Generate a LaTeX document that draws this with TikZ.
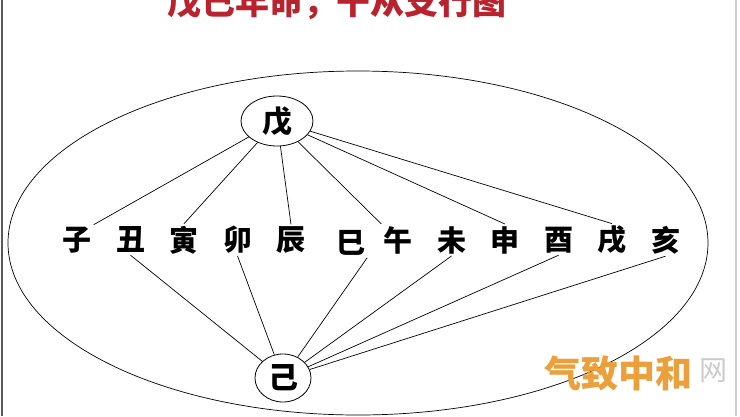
\documentclass[tikz,border=0pt]{standalone}
\usepackage{fontspec}
\newfontfamily\cjk{Noto Sans CJK SC}
\usetikzlibrary{positioning, shapes.geometric}
\definecolor{titlered}{RGB}{185,35,45}
\definecolor{markorange}{RGB}{236,160,60}
\tikzstyle{gan} = [ellipse, draw=black, line width=0.8pt, inner sep=0pt, font=\cjk\bfseries\fontsize{30}{30}\selectfont]
\tikzstyle{zhi} = [rectangle, inner sep=2pt, font=\cjk\bfseries\fontsize{29}{29}\selectfont]
\tikzstyle{line} = [line width=0.7pt]

\begin{document}
\begin{tikzpicture}[x=1pt, y=-1pt, node distance=53.5pt]
			\clip (0,0) rectangle (740,416);
			\fill[white] (0,0) rectangle (740,416);
			%标题
			\node (title) [anchor=base, text=titlered, font=\cjk\bfseries\fontsize{34}{34}\selectfont] at (337,14) {戊己年命，干从支行图};
			%外框的大椭圆
			\draw [line] (358,243) ellipse [x radius=350pt, y radius=172pt];
			%天干
			\node (gan1) [gan, minimum width=72pt, minimum height=50pt] at (277,121) {戊};
			\node (gan2) [gan, minimum width=56pt, minimum height=48pt] at (283,378) {己};
			%十二地支
			\node (zhi1) [zhi] at (77,240) {子};
			\node (zhi2) [zhi, right of=zhi1] {丑};
			\node (zhi3) [zhi, right of=zhi2] {寅};
			\node (zhi4) [zhi, right of=zhi3] {卯};
			\node (zhi5) [zhi, right of=zhi4] {辰};
			\node (zhi6) [zhi, right of=zhi5, xshift=6pt, yshift=-3pt] {巳};
			\node (zhi7) [zhi, right of=zhi5, node distance=107pt] {午};
			\node (zhi8) [zhi, right of=zhi7] {未};
			\node (zhi9) [zhi, right of=zhi8] {申};
			\node (zhi10) [zhi, right of=zhi9] {酉};
			\node (zhi11) [zhi, right of=zhi10] {戌};
			\node (zhi12) [zhi, right of=zhi11] {亥};
			%连接戊与阳支
			\draw [line](gan1) -- (zhi1.north east);
			\draw [line](gan1) -- (zhi3.north);
			\draw [line](gan1) -- (zhi5.north);
			\draw [line](gan1) -- (zhi7.north west);
			\draw [line](gan1) -- (zhi9.north);
			\draw [line](gan1) -- (zhi11.north);
			%连接己与阴支
			\draw [line](zhi2.south) -- (gan2);
			\draw [line](zhi4.south) -- (gan2);
			\draw [line](zhi6.south east) -- (gan2);
			\draw [line](zhi8.south) -- (gan2);
			\draw [line](zhi10.south) -- (gan2);
			\draw [line](zhi12.south) -- (gan2);
			%水印
			\node (mark1) [text=markorange, font=\cjk\bfseries\fontsize{37}{37}\selectfont] at (618,373) {气致中和};
			\node (mark2) [text=black!20, font=\cjk\fontsize{28}{28}\selectfont] at (713,371) {网};
			%两侧边线
			\draw [black!65, line width=2pt] (2,0) -- (2,416);
			\draw [black!20, line width=1.5pt] (736,0) -- (736,416);
		\end{tikzpicture}
\end{document}
